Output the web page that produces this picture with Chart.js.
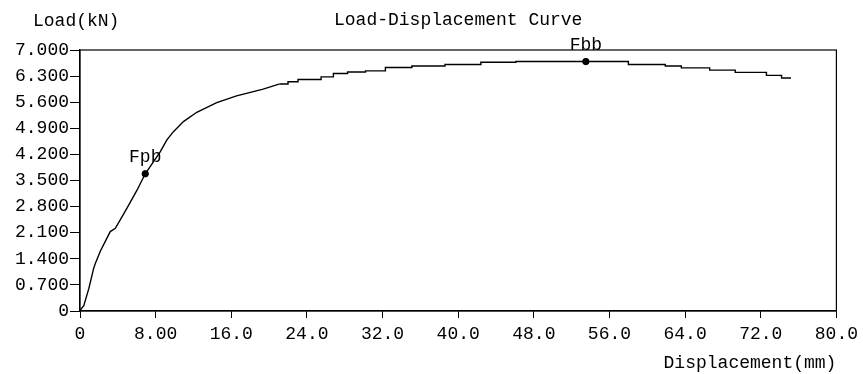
<!DOCTYPE html>
<html><head><meta charset="utf-8">
<script src="https://cdn.jsdelivr.net/npm/chart.js@4"></script>
<style>html,body{margin:0;padding:0;background:#fff}#wrap{width:863px;height:374px}</style>
</head><body><div id="wrap"><canvas id="c" width="863" height="374"></canvas></div>
<script>
const chartTitle = 'Load-Displacement Curve';
const yAxisName = 'Load(kN)';
const xAxisName = 'Displacement(mm)';
const xTickValues = [0, 8, 16, 24, 32, 40, 48, 56, 64, 72, 80];
const xTickLabels = ['0', '8.00', '16.0', '24.0', '32.0', '40.0', '48.0', '56.0', '64.0', '72.0', '80.0'];
const yTickValues = [0, 0.7, 1.4, 2.1, 2.8, 3.5, 4.2, 4.9, 5.6, 6.3, 7.0];
const yTickLabels = ['0', '0.700', '1.400', '2.100', '2.800', '3.500', '4.200', '4.900', '5.600', '6.300', '7.000'];

// rising part of the curve (displacement mm, load kN)
const riseDisp = [0, 0.05, 0.4, 0.93, 1.45, 1.63, 2.16, 3.2, 3.74, 4.97, 6.03, 6.9, 8.48, 9.19, 9.88, 10.94, 12.35, 14.46, 16.56, 19.37, 21.13];
const riseLoad = [0, 0.03, 0.14, 0.6, 1.15, 1.28, 1.61, 2.13, 2.22, 2.76, 3.24, 3.68, 4.27, 4.59, 4.81, 5.08, 5.33, 5.59, 5.77, 5.95, 6.09];
// plateau part (recorded in steps)
const plateauDisp = [21.13, 22.0, 23.06, 25.5, 26.8, 28.3, 30.2, 32.3, 35.1, 38.6, 42.4, 46.1, 58.0, 61.9, 63.6, 66.6, 69.3, 72.6, 74.2, 75.2];
const plateauLoad = [6.09, 6.15, 6.21, 6.28, 6.37, 6.41, 6.44, 6.53, 6.57, 6.61, 6.67, 6.69, 6.61, 6.57, 6.52, 6.46, 6.40, 6.32, 6.25, 6.25];

const markerNames = ['Fpb', 'Fbb'];
const markerDisp = [6.9, 53.5];
const markerLoad = [3.68, 6.69];

const FONT = '"Liberation Mono", "DejaVu Sans Mono", monospace';
const FSIZE = 18;

const toPts = (xs, ys) => xs.map((x, i) => ({x: x, y: ys[i]}));

const textPlugin = {
  id: 'texts',
  beforeDatasetsDraw(chart) {
    const a = chart.chartArea, ctx = chart.ctx;
    ctx.save();
    ctx.strokeStyle = '#000';
    ctx.lineWidth = 1.2;
    ctx.strokeRect(a.left, a.top, a.right - a.left, a.bottom - a.top);
    ctx.restore();
  },
  afterDraw(chart) {
    const a = chart.chartArea, ctx = chart.ctx;
    ctx.save();
    ctx.fillStyle = '#000';
    ctx.font = FSIZE + 'px ' + FONT;
    ctx.textBaseline = 'middle';
    ctx.textAlign = 'left';
    ctx.fillText(yAxisName, 33, 21);
    ctx.textAlign = 'center';
    ctx.fillText(chartTitle, (a.left + a.right) / 2, 20);
    ctx.textAlign = 'right';
    ctx.fillText(xAxisName, a.right, 363);
    const meta = chart.getDatasetMeta(2);
    ctx.textAlign = 'center';
    ctx.textBaseline = 'alphabetic';
    meta.data.forEach((pt, i) => {
      ctx.fillText(markerNames[i], pt.x, pt.y - 12);
    });
    ctx.restore();
  }
};

new Chart(document.getElementById('c'), {
  type: 'scatter',
  data: {
    datasets: [
      {data: toPts(riseDisp, riseLoad), showLine: true, borderColor: '#000', borderWidth: 1.4, pointRadius: 0, tension: 0},
      {data: toPts(plateauDisp, plateauLoad), showLine: true, stepped: 'before', borderColor: '#000', borderWidth: 1.4, pointRadius: 0},
      {data: toPts(markerDisp, markerLoad), showLine: false, pointRadius: 3.2, backgroundColor: '#000', borderColor: '#000'}
    ]
  },
  options: {
    responsive: false,
    animation: false,
    devicePixelRatio: 1,
    layout: {padding: {top: 50, right: 24, left: 0, bottom: 0}},
    plugins: {legend: {display: false}, tooltip: {enabled: false}, title: {display: false}},
    scales: {
      x: {
        type: 'linear', min: 0, max: 80,
        afterBuildTicks: s => { s.ticks = xTickValues.map(v => ({value: v})); },
        afterFit: s => { s.height = 63; },
        ticks: {
          color: '#000', font: {family: FONT, size: FSIZE}, padding: 5, maxRotation: 0, autoSkip: false,
          callback: (v, i) => xTickLabels[i]
        },
        grid: {drawOnChartArea: false, color: '#000', tickLength: 7, lineWidth: 1},
        border: {color: '#000', width: 1.2}
      },
      y: {
        type: 'linear', min: 0, max: 7,
        afterBuildTicks: s => { s.ticks = yTickValues.map(v => ({value: v})); },
        afterFit: s => { s.width = 80; },
        ticks: {
          color: '#000', font: {family: FONT, size: FSIZE}, padding: 1, autoSkip: false,
          callback: (v, i) => yTickLabels[i]
        },
        grid: {drawOnChartArea: false, color: '#000', tickLength: 10, lineWidth: 1},
        border: {color: '#000', width: 1.2}
      }
    }
  },
  plugins: [textPlugin]
});
</script>
</body></html>
